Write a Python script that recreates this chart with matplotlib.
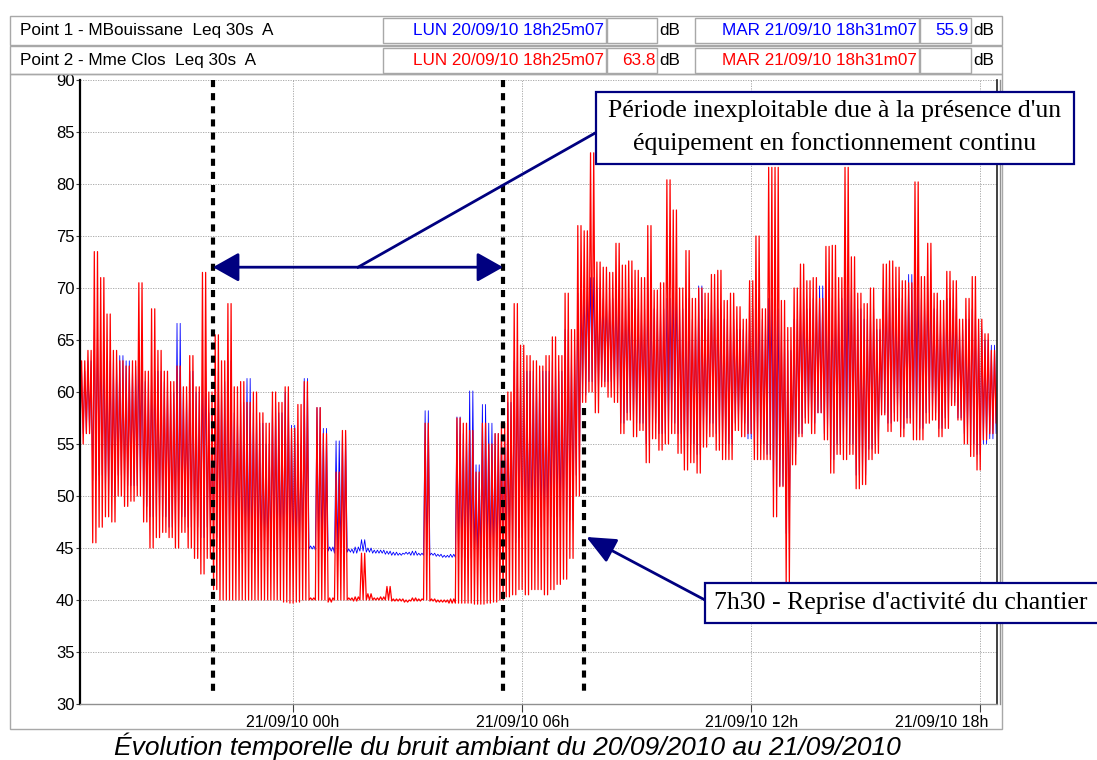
import numpy as np
import matplotlib.pyplot as plt
from matplotlib.patches import Rectangle
from matplotlib.lines import Line2D
from matplotlib.transforms import ScaledTranslation

plt.rcParams['font.family'] = ['Liberation Sans', 'DejaVu Sans']

#%% data: Leq 30s A, read as min / max per 10 min bin, from 20/09/10 18h25
# time in hours relative to 21/09/10 00h
t_start = -(5 + 35 / 60)
bin_hours = 1 / 6

# Point 2 - Mme Clos (red)
red_high = [
    63, 64, 73.5, 71, 67.5, 64,          # 18h25
    63, 62.5, 63, 70.5, 62, 68,          # 19h25
    64, 62, 61, 62.5, 60.5, 63.5,        # 20h25
    60.5, 71.5, 60, 65.5, 63, 68.5,      # 21h25
    60.5, 61, 59, 60, 58, 57,            # 22h25
    60, 59, 60.5, 56.5, 58.8, 61,        # 23h25
    40.2, 58.5, 56, 40.2, 52.3, 56.3,    # 00h25
    40.2, 40.3, 44.5, 40.6, 40.2, 40.3,  # 01h25
    41.3, 40.1, 40.1, 40.0, 40.2, 40.1,  # 02h25
    57, 40.1, 40.0, 40.0, 40.1, 57.5,    # 03h25
    57, 56.3, 52.3, 57, 55, 56,          # 04h25
    57, 60, 68.5, 64.5, 63.5, 63,        # 05h25
    62.5, 63.5, 65.3, 63.5, 69.5, 66,    # 06h25
    76, 75.5, 83, 72.5, 72, 71.5,        # 07h25
    74.3, 72.2, 72.6, 71.7, 71, 76,      # 08h25
    69.8, 70.5, 80.4, 77.5, 70, 73.6,    # 09h25
    69, 70, 69.5, 71.3, 71.7, 68.8,      # 10h25
    69.5, 68.2, 67, 70.7, 75, 68,        # 11h25
    81.6, 81.6, 68.8, 66.2, 70, 72.3,    # 12h25
    70.7, 71, 69, 74, 74.1, 71,          # 13h25
    81.6, 73, 69.5, 68.5, 70, 67,        # 14h25
    72.3, 72.6, 72, 70.7, 70.5, 80.2,    # 15h25
    71.1, 74.3, 69.5, 68.8, 71.6, 70.7,  # 16h25
    67, 69, 71.1, 67, 65.6, 64,          # 17h25
    64,                                  # 18h25
]
red_low = [
    55, 56, 45.5, 47, 48, 47.5,
    50, 49, 49.5, 50, 47.5, 45,
    46, 46.5, 46, 45, 46.5, 45,
    44, 42.5, 44, 41, 40, 40,
    40, 40, 40, 40, 40, 40,
    40, 40, 39.8, 39.7, 39.8, 40,
    40, 40, 40, 39.8, 40, 40,
    40, 39.9, 40, 40, 40, 40,
    40, 39.9, 39.9, 39.8, 39.9, 39.9,
    40, 39.9, 39.8, 39.8, 39.7, 39.7,
    39.7, 39.7, 39.6, 39.6, 39.7, 39.8,
    40, 40.3, 40.5, 41, 40.5, 41,
    41, 40.5, 41, 41.5, 42, 44,
    50, 59, 60, 58, 60.5, 59.5,
    59, 56, 57.3, 55.7, 56.3, 53.2,
    55.5, 54.4, 55, 56, 54.1, 52.5,
    53.2, 52.2, 54.7, 55.7, 54.4, 53.5,
    53.5, 56.3, 55.7, 56, 53.5, 53.5,
    53.5, 48, 50.9, 41.6, 53, 55.7,
    57, 56, 58, 55.4, 52.2, 54,
    53.5, 54, 50.7, 51.1, 53.5, 54.1,
    57.8, 56.2, 57.2, 55.7, 57, 55.4,
    55.4, 57, 57.3, 55.7, 56.5, 58.7,
    57.3, 55, 53.8, 52.5, 55.4, 56,
    57,
]

# Point 1 - M Bouissane (blue)
blue_high = [
    62, 63, 66, 64, 63, 63,
    63.5, 63, 62.5, 64, 61, 62,
    62, 61, 60, 66.6, 60, 62,
    60, 62, 58, 62, 61, 63,
    58, 59, 61.3, 58, 57, 55,
    59, 58, 60, 56.8, 55, 61.3,
    45.2, 58.5, 56.5, 45.1, 55.3, 56,
    44.9, 45.1, 45.8, 45.0, 44.8, 44.8,
    44.7, 44.6, 44.5, 44.6, 44.7, 44.5,
    58.2, 44.5, 44.4, 44.3, 44.4, 57.6,
    56, 60.1, 53, 58.8, 57, 56,
    56, 59, 63, 62, 62, 62,
    62, 62, 63, 62, 66, 64,
    69.5, 70, 71, 70, 69, 69,
    70, 69, 69, 68, 68, 70,
    68, 68, 69, 70, 68, 69,
    67, 70.2, 67, 69, 68, 67,
    67, 66, 66, 68, 69, 67,
    69, 68, 66, 64, 67, 69,
    68, 69, 70.2, 70, 69, 69,
    70, 70, 68, 67, 68, 66,
    70, 70, 69, 69, 71.3, 70,
    69, 70, 68, 67, 69, 68,
    66, 67, 68, 66, 65, 64.5,
    63,
]
blue_low = [
    56, 56, 51.5, 52, 50, 50,
    52, 51, 51, 51, 49, 48,
    48, 48, 47, 47, 48, 47,
    47, 46, 47, 46, 45.5, 45,
    44.8, 44.5, 44.6, 44.5, 44.7, 44.8,
    44.7, 44.8, 44.6, 44.7, 44.9, 44.8,
    44.9, 44.8, 44.9, 44.7, 44.5, 44.5,
    44.6, 44.5, 44.7, 44.6, 44.5, 44.5,
    44.4, 44.3, 44.3, 44.4, 44.3, 44.3,
    44.3, 44.3, 44.2, 44.1, 44.1, 44.1,
    44.1, 44, 44, 43.9, 44, 44.2,
    44.5, 45, 45.5, 46, 47, 47,
    47, 47, 48, 48, 47.5, 47.7,
    52, 59.7, 61, 60, 61, 61,
    60, 57, 58, 57, 57, 55,
    57, 56, 56, 57, 56, 54,
    55, 54, 56, 57, 56, 55,
    55, 57, 57, 55.5, 55, 55,
    54, 50, 51, 46.4, 54, 56,
    57.5, 57, 58, 56, 53.5, 55,
    54.5, 55, 52, 52, 54.5, 55,
    58, 57, 58, 56.5, 57.5, 56.5,
    56.5, 58, 58, 56.5, 57.5, 59,
    57.5, 56, 55, 54, 55, 55.5,
    56,
]

tick_hours = [0, 6, 12, 18]
tick_labels = ['21/09/10 00h', '21/09/10 06h', '21/09/10 12h', '21/09/10 18h']
marker_hours = [-2.1, 5.5, 7.62]     # dashed vertical markers

header_rows = [
    ['Point 1 - MBouissane  Leq 30s  A', 'LUN 20/09/10 18h25m07', '', 'MAR 21/09/10 18h31m07', '55.9'],
    ['Point 2 - Mme Clos  Leq 30s  A', 'LUN 20/09/10 18h25m07', '63.8', 'MAR 21/09/10 18h31m07', ''],
]
row_colors = ['#0000ff', '#ff0000']


def zigzag(low, high):
    # each 10 min bin is swept twice between its min and max (30 s data is denser than the bins)
    n = len(low)
    t = t_start + np.arange(n) * bin_hours
    x = np.column_stack([t + k * bin_hours / 4 for k in range(4)]).ravel()
    y = np.column_stack([low, high, low, high]).ravel()
    return x, y


#%% figure
W, H = 1097, 760
fig = plt.figure(figsize=(W / 100, H / 100), dpi=100)


def fx(x):
    return x / W


def fy(y):
    return 1 - y / H


ax = fig.add_axes([fx(80), fy(704), (997 - 80) / W, (704 - 80) / H])

xb, yb = zigzag(blue_low, blue_high)
xr, yr = zigzag(red_low, red_high)
ax.plot(xb, yb, color='#0000ff', lw=0.6)
ax.plot(xr, yr, color='#ff0000', lw=0.9)

ax.set_xlim(t_start, 18.44)
ax.set_ylim(30, 90)
ax.set_yticks(range(30, 91, 5))
ax.set_xticks(tick_hours)
ax.set_xticklabels(tick_labels)
ax.grid(True, color='#a0a0a0', linestyle=(0, (1.5, 1.5)), linewidth=0.6)
ax.tick_params(axis='y', direction='out', length=3, width=0.8, pad=1, labelsize=12, color='#404040')
ax.tick_params(axis='x', direction='out', length=6, width=0.8, pad=2, labelsize=11.5, color='#404040')
last = ax.get_xticklabels()[-1]
last.set_horizontalalignment('right')
last.set_transform(last.get_transform() + ScaledTranslation(0.08, 0, fig.dpi_scale_trans))
ax.spines['top'].set_visible(False)
ax.spines['left'].set_linewidth(1.6)
ax.spines['left'].set_color('black')
ax.spines['bottom'].set_color('#909090')
ax.spines['bottom'].set_linewidth(1)
ax.spines['right'].set_color('#202020')
ax.spines['right'].set_linewidth(1.2)

# dashed markers
dash = (0, (1.7, 1.45))
ax.plot([marker_hours[0]] * 2, [90, 31], color='black', lw=3, ls=dash, clip_on=False, zorder=5)
ax.plot([marker_hours[1]] * 2, [90, 31], color='black', lw=3, ls=dash, clip_on=False, zorder=5)
ax.plot([marker_hours[2]] * 2, [58.5, 31.2], color='black', lw=3, ls=dash, clip_on=False, zorder=5)

navy = '#000080'
ax.annotate('', xy=(marker_hours[0], 72), xytext=(marker_hours[1], 72),
            arrowprops=dict(arrowstyle='<|-|>,head_length=0.8,head_width=0.45', mutation_scale=20,
                            color=navy, lw=2, shrinkA=0, shrinkB=0), zorder=6)
ax.plot([1.70, 7.96], [72, 85.0], color=navy, lw=2, clip_on=False, zorder=6)
ax.annotate('', xy=(7.68, 46.06), xytext=(10.79, 40.0),
            arrowprops=dict(arrowstyle='-|>,head_length=0.9,head_width=0.4', mutation_scale=20,
                            color=navy, lw=2, shrinkA=0, shrinkB=0), zorder=6, annotation_clip=False)

# second line at the right of the plot
fig.add_artist(Line2D([fx(1000), fx(1000)], [fy(80), fy(704)], color='#909090', lw=1))


def box(x0, y0, x1, y1, ec, lw, fc='none', z=1):
    fig.add_artist(Rectangle((fx(x0), fy(y1)), (x1 - x0) / W, (y1 - y0) / H,
                             transform=fig.transFigure, fc=fc, ec=ec, lw=lw, zorder=z))


# annotation boxes
serif = ['Liberation Serif', 'DejaVu Serif']
box(596, 92, 1074, 164, navy, 1.6, fc='white', z=3)
fig.text(fx(835), fy(111), "Période inexploitable due à la présence d'un", ha='center', va='center',
         fontsize=18.5, family=serif, zorder=4)
fig.text(fx(835), fy(144), 'équipement en fonctionnement continu', ha='center', va='center',
         fontsize=18.5, family=serif, zorder=4)
box(705, 583, 1110, 623, navy, 1.6, fc='white', z=3)
fig.text(fx(714), fy(603), "7h30 - Reprise d'activité du chantier", ha='left', va='center',
         fontsize=18.5, family=serif, zorder=4)

#%% header table and frames
gray = '#a8a8a8'
box(10, 16, 1002, 45, gray, 1)
box(10, 46, 1002, 74, gray, 1)
box(10, 74, 1002, 729, gray, 1)
row_tops = [18, 48]
hs = 12.3
for r, row in enumerate(header_rows):
    y0 = row_tops[r]
    y1 = y0 + 25
    yc = (y0 + y1) / 2
    col = row_colors[r]
    fig.text(fx(20), fy(yc), row[0], ha='left', va='center', fontsize=hs)
    box(383, y0, 606, y1, gray, 1)
    box(607, y0, 657, y1, gray, 1)
    box(695, y0, 919, y1, gray, 1)
    box(920, y0, 971, y1, gray, 1)
    fig.text(fx(604), fy(yc), row[1], ha='right', va='center', fontsize=hs, color=col)
    fig.text(fx(656), fy(yc), row[2], ha='right', va='center', fontsize=hs, color=col)
    fig.text(fx(659), fy(yc), 'dB', ha='left', va='center', fontsize=hs)
    fig.text(fx(917), fy(yc), row[3], ha='right', va='center', fontsize=hs, color=col)
    fig.text(fx(969), fy(yc), row[4], ha='right', va='center', fontsize=hs, color=col)
    fig.text(fx(973), fy(yc), 'dB', ha='left', va='center', fontsize=hs)

fig.text(fx(507), fy(746), 'Évolution temporelle du bruit ambiant du 20/09/2010 au 21/09/2010',
         ha='center', va='center', fontsize=19, style='italic')

fig.savefig('out.png', dpi=100)
